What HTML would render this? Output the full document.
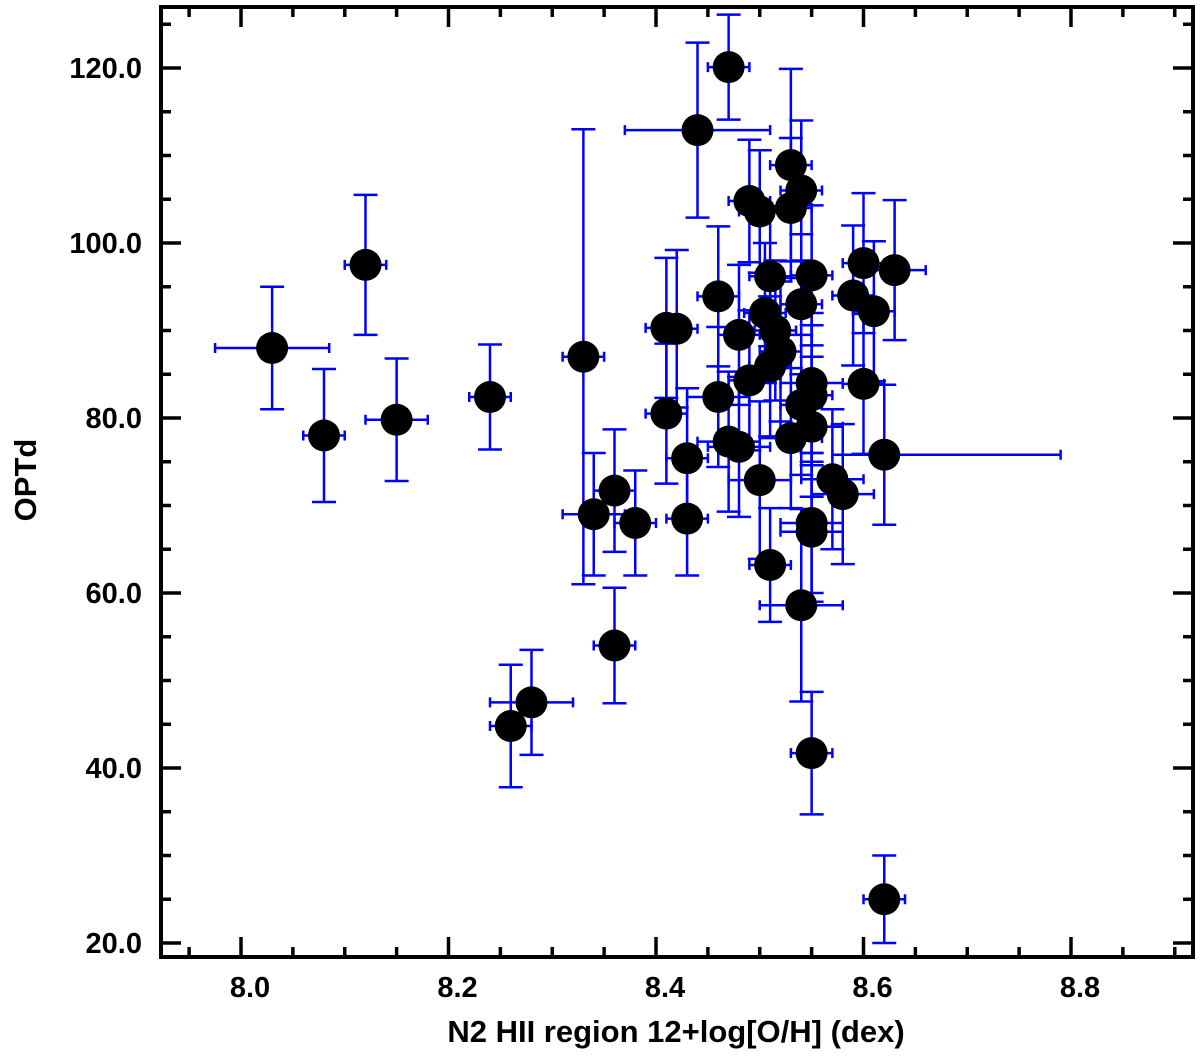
<!DOCTYPE html>
<html><head><meta charset="utf-8"><style>
html,body{margin:0;padding:0;background:#fff;}
svg{display:block;font-family:"Liberation Sans",sans-serif;font-weight:bold;}
</style></head><body>
<svg id="chart" width="1200" height="1061" xmlns="http://www.w3.org/2000/svg">
<g id="errs"></g>
<g id="pts"></g>
<g id="axes"></g>
<text x="676" y="1042" font-size="31" text-anchor="middle">N2 HII region 12+log[O/H] (dex)</text>
<text transform="translate(36,480) rotate(-90)" font-size="31" text-anchor="middle">OPTd</text>
</svg>
<script>
const xVals=[8.03,8.08,8.12,8.15,8.24,8.26,8.28,8.33,8.34,8.36,8.36,8.38,8.41,8.42,8.41,8.43,8.43,8.44,8.47,8.46,8.46,8.47,8.48,8.48,8.49,8.49,8.50,8.50,8.51,8.51,8.505,8.515,8.52,8.51,8.53,8.54,8.53,8.55,8.54,8.53,8.55,8.55,8.54,8.55,8.54,8.55,8.55,8.55,8.57,8.58,8.59,8.60,8.60,8.61,8.62,8.63,8.62];
const yVals=[88,78,97.5,79.8,82.4,44.8,47.5,87,69,71.7,54,68,90.3,90.2,80.5,75.4,68.5,112.9,120.1,93.9,82.4,77.3,76.7,89.5,84.3,104.8,103.6,72.9,63.2,96.2,92,90,87.6,85.9,108.9,106,104,96.3,93,77.7,84,82.6,81.5,79,58.6,68,67,41.7,73,71.3,94,97.7,83.9,92.2,75.8,96.9,25];
const yErr=[7,7.6,8,7,6,7,6,26,7,7,6.6,6,8,9,8,8,6.5,10,6,8,8,8,8,8,8,7,7,9,6.5,8,8,8,8,8,11,8,8,8,8,8,8,8,8,8,11,8,8,7,8,8,8,8,8,8,8,8,5];
const xErrLo=[0.055,0.02,0.02,0.03,0.02,0.02,0.04,0.02,0.03,0.02,0.02,0.02,0.02,0.02,0.02,0.02,0.02,0.07,0.02,0.02,0.03,0.03,0.03,0.02,0.02,0.02,0.02,0.03,0.02,0.02,0.02,0.02,0.02,0.02,0.02,0.02,0.02,0.02,0.02,0.03,0.03,0.02,0.02,0.03,0.04,0.03,0.03,0.02,0.03,0.03,0.02,0.02,0.02,0.02,0.05,0.03,0.02];
const xErrHi=[0.055,0.02,0.02,0.03,0.02,0.02,0.04,0.02,0.03,0.02,0.02,0.02,0.02,0.02,0.02,0.02,0.02,0.07,0.02,0.02,0.03,0.03,0.03,0.02,0.02,0.02,0.02,0.03,0.02,0.02,0.02,0.02,0.02,0.02,0.02,0.02,0.02,0.02,0.02,0.03,0.03,0.02,0.02,0.03,0.04,0.03,0.03,0.02,0.03,0.03,0.02,0.02,0.02,0.02,0.17,0.03,0.02];
const xTicks=[8.0,8.2,8.4,8.6,8.8];
const xTickLabels=["8.0","8.2","8.4","8.6","8.8"];
const yTicks=[20,40,60,80,100,120];
const yTickLabels=["20.0","40.0","60.0","80.0","100.0","120.0"];

const NS="http://www.w3.org/2000/svg";
const L=161,R=1193,T=7,B=957;
const X=v=>241+(v-8)*1037.5;
const Y=v=>68+(120-v)*8.75;
function mk(tag,at,parent){const e=document.createElementNS(NS,tag);for(const k in at)e.setAttribute(k,at[k]);parent.appendChild(e);return e;}
const errs=document.getElementById('errs'),pts=document.getElementById('pts'),axes=document.getElementById('axes');
const blue="#0000ff",cap=12;
for(let i=0;i<xVals.length;i++){
  const cx=X(xVals[i]),cy=Y(yVals[i]);
  const y1=Y(yVals[i]+yErr[i]),y2=Y(yVals[i]-yErr[i]);
  const x1=X(xVals[i]-xErrLo[i]),x2=X(xVals[i]+xErrHi[i]);
  const d=`M${cx},${y1}V${y2}M${cx-cap},${y1}H${cx+cap}M${cx-cap},${y2}H${cx+cap}M${x1},${cy}H${x2}M${x1},${cy-5}V${cy+5}M${x2},${cy-5}V${cy+5}`;
  const p=mk('path',{d:d,stroke:blue,'stroke-width':2.5,fill:'none'},errs);
  
  
  const c=mk('circle',{cx:cx,cy:cy,r:16,fill:'#000'},pts);
  
  
}
mk('rect',{x:L,y:T,width:R-L,height:B-T,fill:'none',stroke:'#000','stroke-width':4},axes);
let td="";
for(let k=0;k<=20;k++){const v=7.95+k*0.05;const x=X(v);if(x<=L+2||x>=R-2)continue;const maj=Math.abs((v*10)%2)<0.01||Math.abs((v*10)%2-2)<0.01;const len=maj?20:10;td+=`M${x},${B}V${B-len}M${x},${T}V${T+len}`;}
for(let v=20;v<=125;v+=5){const y=Y(v);if(y<=T+2||y>=B-2)continue;const len=(v%20===0)?20:10;td+=`M${L},${y}H${L+len}M${R},${y}H${R-len}`;}
mk('path',{d:td,stroke:'#000','stroke-width':3.5,fill:'none'},axes);
xTicks.forEach((v,i)=>{const t=mk('text',{x:X(v)+9,y:997,'font-size':29,'text-anchor':'middle'},axes);t.textContent=xTickLabels[i];

});
yTicks.forEach((v,i)=>{const t=mk('text',{x:142,y:Y(v)+10,'font-size':29,'text-anchor':'end'},axes);t.textContent=yTickLabels[i];

});
</script>
</body></html>
